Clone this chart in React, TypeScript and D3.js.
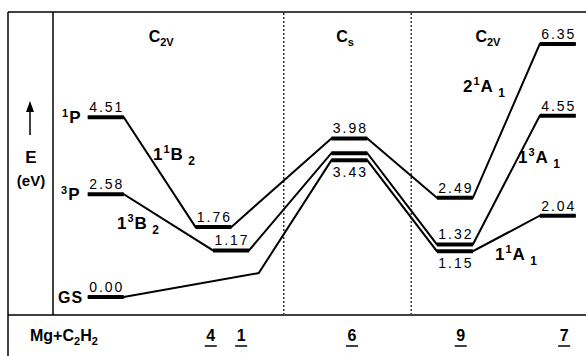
import React from 'react';
import * as d3 from 'd3';

const W = 586;
const H = 356;

// reaction coordinate of each structure (arbitrary abscissa units)
const stageNames = ['atoms', '4', '1', 'kink', '6', '9', '7'];
const stagePos = [9.9, 30.1, 33.4, 38.6, 55.6, 75.4, 94.7];

// energies (eV) along the three curves
const singletStages = ['atoms', '4', '6', '9', '7'];
const singletEnergies = [4.51, 1.76, 3.98, 2.49, 6.35];
const tripletStages = ['atoms', '1', '6', '9', '7'];
const tripletEnergies = [2.58, 1.17, 3.61, 1.32, 4.55];
const groundStages = ['atoms', 'kink', '6', '9', '7'];
const groundEnergies = [0.0, 0.6, 3.43, 1.15, 2.04];

const belowLabels = [3.43, 1.15];
const hiddenLabels = [3.61];

// symmetry regions and bottom structure labels
const regionNames = ['C2V', 'CS', 'C2V'];
const regionPos = [20.3, 54.8, 81.6];
const dividerPos = [43.3, 67.2];
const structureNames = ['4', '1', '6', '9', '7'];
const structurePos = [29.6, 35.3, 56.1, 76.5, 95.9];

const font = "'Liberation Sans', Arial, Helvetica, sans-serif";

const x = d3.scaleLinear().domain([0, 100]).range([53, 586]);
const y = d3.scaleLinear().domain([0, 6.35]).range([297, 44]);
const halfBar = 18;

const posOf = (s: string) => x(stagePos[stageNames.indexOf(s)]);

const curvePoints = (stages: string[], energies: number[]) => {
    const pts: [number, number][] = [];
    stages.forEach((s, i) => {
        const cx = posOf(s);
        const cy = y(energies[i]);
        if (s === 'kink') {
            pts.push([cx, cy]);
        } else {
            pts.push([cx - halfBar, cy], [cx + halfBar, cy]);
        }
    });
    return pts;
};

const line = d3.line();

const curves = [
    { stages: singletStages, energies: singletEnergies },
    { stages: tripletStages, energies: tripletEnergies },
    { stages: groundStages, energies: groundEnergies },
];

// label made of pieces: [text, fontSize, dy]
const Term = ({ x0, y0, parts, size }: { x0: number; y0: number; parts: [string, number, number][]; size: number }) => (
    <text x={x0} y={y0} fontFamily={font} fontWeight="bold" fontSize={size} fill="#000" letterSpacing="1">
        {parts.map((p, i) => (
            <tspan key={i} fontSize={p[1]} dy={p[2]}>{p[0]}</tspan>
        ))}
    </text>
);

export default function App() {
    return (
        <div style={{ position: 'fixed', left: 0, top: 0 }}>
            <svg width={W} height={H} style={{ display: 'block', background: '#fff' }}>
                {/* frame */}
                <line x1={8} y1={12} x2={586} y2={12} stroke="#000" strokeWidth={1.5} />
                <line x1={8} y1={12} x2={8} y2={356} stroke="#000" strokeWidth={1.5} />
                <line x1={53} y1={12} x2={53} y2={315} stroke="#000" strokeWidth={1.5} />
                <line x1={8} y1={315} x2={586} y2={315} stroke="#000" strokeWidth={1.5} />

                {dividerPos.map((d, i) => (
                    <line key={i} x1={x(d)} y1={13} x2={x(d)} y2={314} stroke="#000" strokeWidth={1.2} strokeDasharray="2,2" />
                ))}

                {/* symmetry labels */}
                {regionNames.map((r, i) => (
                    <text key={i} x={x(regionPos[i])} y={42} textAnchor="middle" fontFamily={font} fontWeight="bold" fontSize={16}>
                        {r[0]}
                        <tspan fontSize={11} dy={4}>{r.slice(1) === 'S' ? 's' : r.slice(1)}</tspan>
                    </text>
                ))}

                {/* connecting curves */}
                {curves.map((c, i) => (
                    <path key={i} d={line(curvePoints(c.stages, c.energies)) || ''} fill="none" stroke="#000" strokeWidth={2} />
                ))}

                {/* energy levels */}
                {curves.map((c, i) =>
                    c.stages.map((s, j) => {
                        if (s === 'kink') return null;
                        const cx = posOf(s);
                        const e = c.energies[j];
                        const cy = y(e);
                        const below = belowLabels.includes(e);
                        return (
                            <g key={`${i}-${j}`}>
                                <line x1={cx - halfBar} y1={cy} x2={cx + halfBar} y2={cy} stroke="#000" strokeWidth={4} />
                                {!hiddenLabels.includes(e) && (
                                    <text x={cx + 1} y={below ? cy + 17 : cy - 5} textAnchor="middle" fontFamily={font} fontSize={14} letterSpacing="2">
                                        {e.toFixed(2)}
                                    </text>
                                )}
                            </g>
                        );
                    })
                )}

                {/* atomic states */}
                <Term x0={62} y0={y(4.51) + 6} size={17} parts={[['1', 11, -6], ['P', 17, 6]]} />
                <Term x0={61} y0={y(2.58) + 6} size={17} parts={[['3', 11, -6], ['P', 17, 6]]} />
                <Term x0={58} y0={y(0) + 6} size={16} parts={[['GS', 16, 0]]} />

                {/* molecular state labels */}
                <Term x0={153} y0={160} size={17} parts={[['1', 17, 0], ['1', 11, -7], ['B', 17, 7], [' 2', 12, 5]]} />
                <Term x0={117} y0={229} size={17} parts={[['1', 17, 0], ['3', 11, -7], ['B', 17, 7], [' 2', 12, 5]]} />
                <Term x0={463} y0={92} size={17} parts={[['2', 17, 0], ['1', 11, -7], ['A', 17, 7], [' 1', 12, 5]]} />
                <Term x0={518} y0={163} size={17} parts={[['1', 17, 0], ['3', 11, -7], ['A', 17, 7], [' 1', 12, 5]]} />
                <Term x0={495} y0={260} size={17} parts={[['1', 17, 0], ['1', 11, -7], ['A', 17, 7], [' 1', 12, 5]]} />

                {/* axis label */}
                <line x1={30} y1={135} x2={30} y2={108} stroke="#000" strokeWidth={1.5} />
                <path d="M26,112 L30,101 L34,112 Z" fill="#000" />
                <text x={31} y={163} textAnchor="middle" fontFamily={font} fontWeight="bold" fontSize={17}>E</text>
                <text x={31} y={186} textAnchor="middle" fontFamily={font} fontWeight="bold" fontSize={15}>(eV)</text>

                {/* bottom row */}
                <text x={30} y={341} fontFamily={font} fontWeight="bold" fontSize={16}>
                    Mg+C<tspan fontSize={11} dy={4}>2</tspan><tspan dy={-4}>H</tspan><tspan fontSize={11} dy={4}>2</tspan>
                </text>
                {structureNames.map((s, i) => (
                    <g key={i}>
                        <text x={x(structurePos[i])} y={341} textAnchor="middle" fontFamily={font} fontWeight="bold" fontSize={16}>{s}</text>
                        <line x1={x(structurePos[i]) - 6} y1={346} x2={x(structurePos[i]) + 6} y2={346} stroke="#000" strokeWidth={1.5} />
                    </g>
                ))}
            </svg>
        </div>
    );
}
